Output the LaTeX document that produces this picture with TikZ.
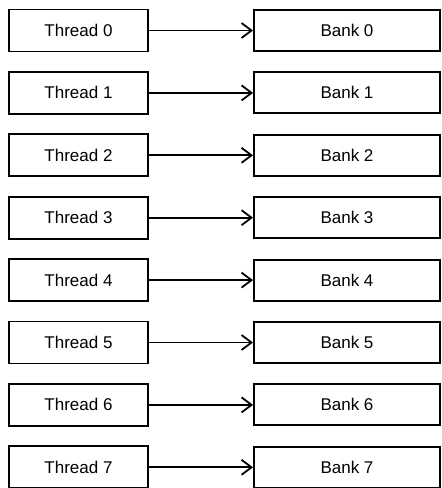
\documentclass[tikz,border=0pt]{standalone}
\usepackage{fontspec}
\setmainfont{Liberation Sans}
\usetikzlibrary{arrows.meta}
\begin{document}
\begin{tikzpicture}[x=1pt,y=-1pt,
  box/.style={draw, line width=1.9pt, font=\fontsize{17}{20}\selectfont, inner sep=0pt, anchor=center, text=black},
  thr/.style={box, minimum width=139pt, minimum height=42pt},
  bnk/.style={box, minimum width=186pt, minimum height=41pt},
  conn/.style={line width=1.8pt, -{Straight Barb[length=10pt,width=15pt,line width=1.8pt]}}]
\useasboundingbox (0,0) rectangle (442,488);
\foreach \i in {0,...,7}{
  \node[thr] (t\i) at (78.5, 30.5+62.4*\i) {Thread \i};
  \node[bnk] (b\i) at (347, 30.5+62.4*\i) {Bank \i};
  \draw[conn] (t\i) -- (b\i);
}
\end{tikzpicture}
\end{document}
